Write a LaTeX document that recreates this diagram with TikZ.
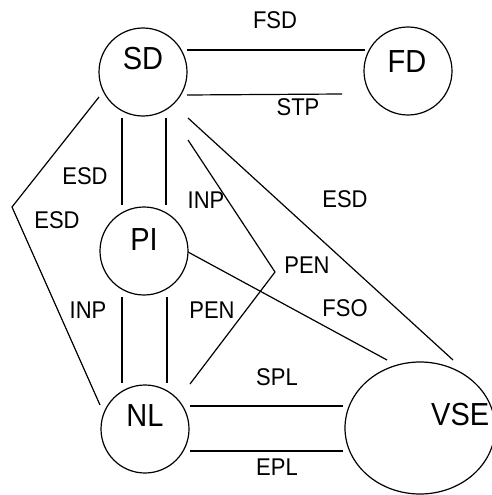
\documentclass[tikz,border=0pt]{standalone}
\usepackage{fontspec}
\setmainfont{Liberation Sans}
\newcommand{\vstretch}[1]{\scalebox{1}[1.1]{#1}}
\begin{document}
\begin{tikzpicture}[x=1pt,y=-1pt,
  circ/.style={draw,circle,minimum size=88pt,inner sep=0pt,line width=1.2pt},
  big/.style={inner sep=0pt,font=\fontsize{29}{29}\selectfont},
  lab/.style={inner sep=0pt,font=\fontsize{22}{22}\selectfont},
  ln/.style={line width=1.2pt}]
\useasboundingbox (0,0) rectangle (492,495);
% circles
\node[circ] (SD) at (143,72) {};
\node[circ] (FD) at (408,71) {};
\node[circ] (PI) at (144,251) {};
\node[circ] (NL) at (145,429) {};
\draw[line width=1.2pt] (420,428) ellipse [x radius=75, y radius=66];
\coordinate (VSE) at (420,428);
% node texts
\node[big] (SDt) at (143,59) {\vstretch{SD}};
\node[big] (FDt) at (407,62) {\vstretch{FD}};
\node[big] (PIt) at (144,240) {\vstretch{PI}};
\node[big] (NLt) at (145,416) {\vstretch{NL}};
\node[big,anchor=west] (VSEt) at (431,415) {\vstretch{VSE}};
% endpoints
\coordinate (a1) at (187,50);  \coordinate (a2) at (365,50);
\coordinate (b1) at (187,95);  \coordinate (b2) at (342,94);
\coordinate (c1) at (122,118); \coordinate (c2) at (122,205);
\coordinate (d1) at (166,118); \coordinate (d2) at (166,205);
\coordinate (e1) at (122,297); \coordinate (e2) at (122,383);
\coordinate (f1) at (167,297); \coordinate (f2) at (167,383);
\coordinate (g1) at (99,97);   \coordinate (g2) at (12,207);  \coordinate (g3) at (100,405);
\coordinate (h1) at (188,118); \coordinate (h2) at (453,360);
\coordinate (i1) at (188,140); \coordinate (i2) at (275,272); \coordinate (i3) at (190,384);
\coordinate (j1) at (188,252); \coordinate (j2) at (387,360);
\coordinate (k1) at (190,406); \coordinate (k2) at (343,406);
\coordinate (l1) at (190,451); \coordinate (l2) at (343,451);
% connectors
\draw[ln] (a1) -- (a2);
\draw[ln] (b1) -- (b2);
\draw[ln] (c1) -- (c2);
\draw[ln] (d1) -- (d2);
\draw[ln] (e1) -- (e2);
\draw[ln] (f1) -- (f2);
\draw[ln] (g1) -- (g2) -- (g3);
\draw[ln] (h1) -- (h2);
\draw[ln] (i1) -- (i2) -- (i3);
\draw[ln] (j1) -- (j2);
\draw[ln] (k1) -- (k2);
\draw[ln] (l1) -- (l2);
% labels
\node[lab] (L1) at (275,20) {\vstretch{FSD}};
\node[lab] (L2) at (298,107) {\vstretch{STP}};
\node[lab] (L3) at (85,176) {\vstretch{ESD}};
\node[lab] (L4) at (57,220) {\vstretch{ESD}};
\node[lab] (L5) at (206,200) {\vstretch{INP}};
\node[lab] (L6) at (345,199) {\vstretch{ESD}};
\node[lab] (L7) at (307,265) {\vstretch{PEN}};
\node[lab] (L8) at (345,308) {\vstretch{FSO}};
\node[lab] (L9) at (88,310) {\vstretch{INP}};
\node[lab] (L10) at (212,310) {\vstretch{PEN}};
\node[lab] (L11) at (277,377) {\vstretch{SPL}};
\node[lab] (L12) at (277,467) {\vstretch{EPL}};
\end{tikzpicture}
\end{document}
